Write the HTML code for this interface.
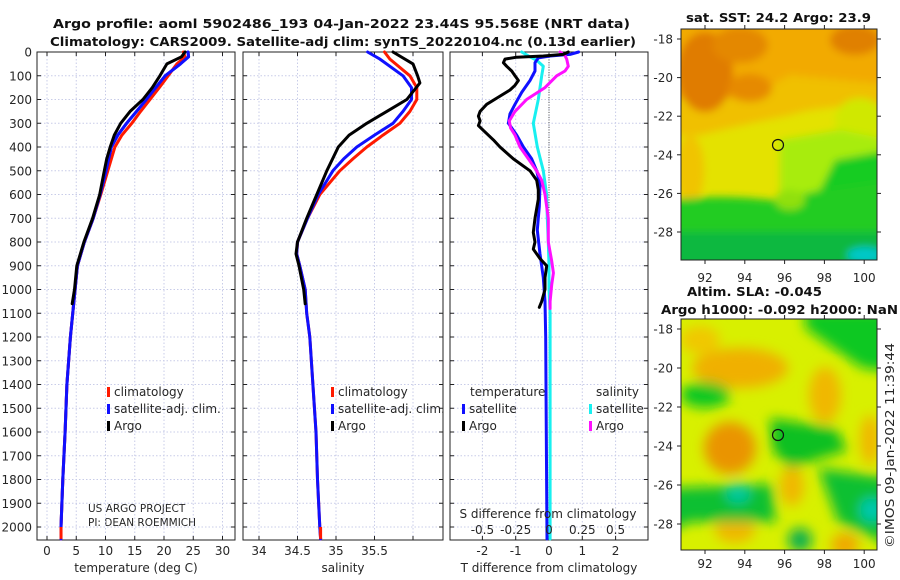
<!DOCTYPE html>
<html><head><meta charset="utf-8">
<style>
html,body{margin:0;padding:0;background:#fff;}
svg{display:block;font-family:"DejaVu Sans","Liberation Sans",sans-serif;}
.t{font-size:12px;fill:#262626;}
.b{font-weight:bold;font-size:12px;fill:#111;}
</style></head>
<body>
<svg id="fig" width="900" height="580" viewBox="0 0 900 580" xmlns="http://www.w3.org/2000/svg">
<defs>
<filter id="blur1" x="-20%" y="-20%" width="140%" height="140%"><feGaussianBlur stdDeviation="4"/></filter>
<filter id="blur2" x="-20%" y="-20%" width="140%" height="140%"><feGaussianBlur stdDeviation="6"/></filter>
<clipPath id="clipTop"><rect x="681" y="29" width="196" height="231"/></clipPath>
<clipPath id="clipBot"><rect x="681" y="319" width="196" height="231"/></clipPath>
</defs>
<text class="b" x="53" y="28" textLength="577" lengthAdjust="spacingAndGlyphs">Argo profile: aoml 5902486_193 04-Jan-2022 23.44S 95.568E (NRT data)</text>
<text class="b" x="50" y="46" textLength="586" lengthAdjust="spacingAndGlyphs">Climatology: CARS2009. Satellite-adj clim: synTS_20220104.nc (0.13d earlier)</text>

<!-- SST map -->
<g>
<text class="b" x="686" y="22" textLength="185" lengthAdjust="spacingAndGlyphs">sat. SST: 24.2 Argo: 23.9</text>
<g clip-path="url(#clipTop)">
<rect x="681" y="29" width="196" height="231" fill="#e4e200"/>
<g filter="url(#blur1)">
<rect x="670" y="20" width="220" height="80" fill="#f2aa00"/>
<path d="M670 100 Q720 110 760 92 L790 75 L890 85 L890 105 Q820 105 790 115 Q740 125 700 135 L670 135Z" fill="#f0c000"/>
<ellipse cx="705" cy="72" rx="28" ry="40" fill="#e07c00"/>
<ellipse cx="740" cy="45" rx="28" ry="18" fill="#e48800"/>
<ellipse cx="750" cy="88" rx="22" ry="14" fill="#e68a00"/>
<ellipse cx="855" cy="40" rx="25" ry="15" fill="#e08000"/>
<ellipse cx="690" cy="170" rx="14" ry="35" fill="#f0c400"/>
<ellipse cx="860" cy="120" rx="25" ry="22" fill="#d0e800"/>
<path d="M780 140 L840 130 L890 140 L890 270 L780 270Z" fill="#a8ec10"/>
<path d="M835 160 L890 150 L890 270 L820 270 L820 190Z" fill="#18cc20"/>
<path d="M670 200 Q720 194 770 200 L800 195 L820 190 L890 180 L890 270 L670 270Z" fill="#20cc20"/>
<rect x="670" y="232" width="220" height="40" fill="#10b840"/>
<ellipse cx="865" cy="255" rx="18" ry="8" fill="#00c8c8"/>
<ellipse cx="790" cy="200" rx="15" ry="10" fill="#90e010"/>
</g>
</g>
<rect x="681" y="29" width="196" height="231" fill="none" stroke="#222" stroke-width="1"/>
<circle cx="778" cy="145" r="5.5" fill="none" stroke="#111" stroke-width="1.2"/>
</g>

<!-- SLA map -->
<g>
<text class="b" x="687" y="296" textLength="135" lengthAdjust="spacingAndGlyphs">Altim. SLA: -0.045</text>
<text class="b" x="661" y="314" textLength="237" lengthAdjust="spacingAndGlyphs">Argo h1000: -0.092 h2000: NaN</text>
<g clip-path="url(#clipBot)">
<rect x="681" y="319" width="196" height="231" fill="#d8f000"/>
<g filter="url(#blur2)">
<ellipse cx="740" cy="368" rx="48" ry="20" fill="#f0b000"/>
<ellipse cx="700" cy="340" rx="20" ry="14" fill="#f0c800"/>
<ellipse cx="825" cy="395" rx="16" ry="28" fill="#f0b800"/>
<ellipse cx="730" cy="448" rx="26" ry="26" fill="#ea9400"/>
<ellipse cx="792" cy="486" rx="12" ry="20" fill="#f0b800"/>
<ellipse cx="735" cy="530" rx="20" ry="13" fill="#f0b800"/>
<ellipse cx="845" cy="545" rx="14" ry="12" fill="#f0a800"/>
<ellipse cx="870" cy="440" rx="10" ry="25" fill="#f0b800"/>
<path d="M805 310 L890 310 L890 372 L862 368 Q838 352 805 328Z" fill="#10c820"/>
<ellipse cx="705" cy="395" rx="25" ry="13" fill="#10c820"/>
<path d="M770 418 L835 428 L848 450 L810 462 L790 468 L772 450Z" fill="#10c020"/>
<path d="M670 488 L772 484 L776 522 L690 522 L670 532Z" fill="#10c030"/>
<path d="M818 468 L890 478 L890 545 L838 522 Z" fill="#10c030"/>
<ellipse cx="738" cy="493" rx="12" ry="10" fill="#00c8a0"/>
<ellipse cx="872" cy="510" rx="12" ry="12" fill="#00c8b0"/>
<ellipse cx="800" cy="540" rx="12" ry="12" fill="#10b050"/>
</g>
</g>
<rect x="681" y="319" width="196" height="231" fill="none" stroke="#222" stroke-width="1"/>
<circle cx="778" cy="435" r="5.5" fill="none" stroke="#111" stroke-width="1.2"/>
</g>
<text class="t" transform="translate(894,548) rotate(-90)" textLength="205" lengthAdjust="spacingAndGlyphs">©IMOS 09-Jan-2022 11:39:44</text>
<text class="t" x="88" y="512" style="font-size:10.5px">US ARGO PROJECT</text>
<text class="t" x="88" y="526" style="font-size:10.5px">PI: DEAN ROEMMICH</text>
</svg>
<script>
// ---- data ----
const tempClimDepth=[0,20,50,100,150,200,250,300,350,400,500,600,700,800,900,1000,1200,1400,1600,1800,2000,2050];
const tempClim=[23.3,23.6,22.2,20.7,19.2,17.6,16.0,14.5,12.8,11.6,10.4,9.2,7.9,6.4,5.2,4.8,4.0,3.4,3.1,2.7,2.4,2.4];
const tempSat=[24.1,24.2,22.8,20.2,18.6,17.0,15.3,13.6,12.1,11.0,10.1,9.1,7.9,6.4,5.2,4.8,4.0,3.4,3.1,2.7,2.4,2.4];
const argoDepth=[0,20,50,100,150,200,250,300,350,400,450,500,600,700,800,900,1000,1060];
const tempArgo=[23.6,23.0,20.5,19.3,18.0,16.4,14.2,12.6,11.5,10.8,10.2,9.8,9.0,7.8,6.3,5.1,4.7,4.3];
const salClimDepth=[0,30,100,150,200,250,300,350,400,450,500,600,700,800,850,900,1000,1100,1200,1400,1600,1800,2000,2050];
const salClim=[35.63,35.70,35.96,36.05,36.05,35.96,35.83,35.61,35.40,35.22,35.05,34.79,34.63,34.50,34.49,34.53,34.60,34.62,34.66,34.70,34.74,34.76,34.79,34.80];
const salSat=[35.41,35.57,35.87,35.98,35.98,35.87,35.74,35.50,35.27,35.10,34.96,34.77,34.63,34.50,34.49,34.53,34.60,34.62,34.66,34.70,34.74,34.76,34.79,34.80];
const salArgoDepth=[0,50,100,130,200,250,300,350,400,500,600,700,800,850,900,1000,1060];
const salArgo=[35.74,36.0,36.06,36.09,35.92,35.66,35.40,35.17,35.03,34.88,34.75,34.62,34.50,34.48,34.52,34.58,34.60];
const dTArgoDepth=[0,10,17,22,30,45,60,80,100,120,140,160,190,220,250,270,290,310,330,370,400,450,500,540,580,620,700,760,800,830,870,900,950,1000,1050,1075];
const dTArgo=[0.58,0.43,-0.17,-0.97,-1.32,-1.37,-1.27,-1.12,-1.02,-0.92,-1.02,-1.17,-1.52,-1.87,-2.07,-2.12,-2.07,-2.12,-1.97,-1.67,-1.47,-1.07,-0.57,-0.37,-0.32,-0.32,-0.42,-0.47,-0.42,-0.47,-0.27,-0.07,-0.12,-0.12,-0.22,-0.29];
const dTSatDepth=[0,10,17,25,45,80,120,170,220,260,300,350,400,450,500,560,650,750,850,950,1050,1200,1600,2050];
const dTSat=[0.89,0.63,0.03,-0.32,-0.42,-0.42,-0.57,-0.82,-1.02,-1.17,-1.22,-0.97,-0.77,-0.52,-0.37,-0.27,-0.29,-0.35,-0.27,-0.17,-0.12,-0.10,-0.08,-0.06];
const dSSatDepth=[0,20,35,60,100,200,300,400,500,600,700,800,900,1000,1100,1500,2050];
const dSSat=[-0.205,-0.143,-0.093,-0.043,-0.055,-0.08,-0.118,-0.088,-0.043,-0.018,-0.013,-0.005,0,0,0.008,0.008,0.008];
const dSArgoDepth=[0,15,30,60,80,100,150,200,250,290,320,350,400,450,500,540,600,700,800,880,930,980,1050,1080];
const dSArgo=[0.083,0.12,0.133,0.145,0.12,0.058,-0.03,-0.168,-0.255,-0.298,-0.288,-0.255,-0.218,-0.155,-0.093,-0.055,-0.03,-0.005,-0.005,0.02,0.033,0.02,0.008,0.008];
const depthTicks=[0,100,200,300,400,500,600,700,800,900,1000,1100,1200,1300,1400,1500,1600,1700,1800,1900,2000];
const tempTicks=[0,5,10,15,20,25,30];
const salTicks=[34,34.5,35,35.5,36];
const salTickLabels=["34","34.5","35","35.5",""];
const dTTicks=[-2,-1,0,1,2];
const dSTicks=[-0.5,-0.25,0,0.25,0.5];
const mapLon=[92,94,96,98,100];
const mapLat=[-18,-20,-22,-24,-26,-28];

// ---- scales ----
const TOP=52,BOT=540;
const yD=d=>TOP+d*0.2375;
const xT=v=>47+v*5.85;
const xS=v=>259+(v-34)*77;
const xdT=v=>549+v*33.3;
const xdS=v=>549+v*133.2;
const lonX=v=>705+(v-92)*19.9;
const latTop=v=>39+(-18-v)*19.3;
const latBot=v=>329+(-18-v)*19.5;

const NS="http://www.w3.org/2000/svg";
const svg=document.getElementById('fig');
function mk(tag,attrs,parent){const e=document.createElementNS(NS,tag);for(const k in attrs)e.setAttribute(k,attrs[k]);(parent||svg).appendChild(e);return e;}
function txt(s,x,y,anchor,parent,cls){const e=mk('text',{x:x,y:y,'text-anchor':anchor||'middle',class:cls||'t'},parent);e.textContent=s;return e;}

const panels=[
 {name:'temperature',x0:37,x1:235,xs:xT,ticks:tempTicks,labels:tempTicks.map(String),title:'temperature (deg C)'},
 {name:'salinity',x0:243,x1:443,xs:xS,ticks:salTicks,labels:salTickLabels,title:'salinity'},
 {name:'difference',x0:450,x1:648,xs:xdT,ticks:dTTicks,labels:dTTicks.map(String),title:'T difference from climatology'}
];
panels.forEach((p,i)=>{
 const g=mk('g',{});
 
 
 depthTicks.forEach(d=>{
  const l=mk('line',{x1:p.x0,x2:p.x1,y1:yD(d),y2:yD(d),stroke:'#c8cce8','stroke-dasharray':'1.5,2','stroke-width':1},g);
  
  
  mk('line',{x1:p.x0,x2:p.x0+4,y1:yD(d),y2:yD(d),stroke:'#222'},g);
  mk('line',{x1:p.x1,x2:p.x1-4,y1:yD(d),y2:yD(d),stroke:'#222'},g);
 });
 p.ticks.forEach((t,k)=>{
  const x=p.xs(t);
  const l=mk('line',{x1:x,x2:x,y1:TOP,y2:BOT,stroke:'#c8cce8','stroke-dasharray':'1.5,2','stroke-width':1},g);
  
  
  mk('line',{x1:x,x2:x,y1:BOT,y2:BOT-4,stroke:'#222'},g);
  mk('line',{x1:x,x2:x,y1:TOP,y2:TOP+4,stroke:'#222'},g);
  const tl=txt(p.labels[k],x,555,'middle',g);
  
  
 });
 const fr=mk('rect',{x:p.x0,y:TOP,width:p.x1-p.x0,height:BOT-TOP,fill:'none',stroke:'#222','stroke-width':1},g);
 
 
 const at=txt(p.title,(p.x0+p.x1)/2,572,'middle',g);
 
 
});
depthTicks.forEach(d=>{
 const e=txt(String(d),32,yD(d)+4.5,'end');
 
 
});
const z=mk('line',{x1:xdT(0),x2:xdT(0),y1:TOP,y2:BOT,stroke:'#555','stroke-dasharray':'1,1.5'});



function line(depths,vals,xs,color,name,w){
 const pts=depths.map((d,i)=>xs(vals[i]).toFixed(1)+','+yD(d).toFixed(1)).join(' ');
 const e=mk('polyline',{points:pts,fill:'none',stroke:color,'stroke-width':w||3,'stroke-linejoin':'round','stroke-linecap':'round'});
 
 
}
line(tempClimDepth,tempSat,xT,'#1010ff','temp-satellite-line');
line(tempClimDepth,tempClim,xT,'#ff1a00','temp-climatology-line');
line(tempClimDepth,tempSat,xT,'#1010ff','temp-satellite-line-overlay',3);
line(argoDepth,tempArgo,xT,'#000','temp-argo-line');
line(salClimDepth,salClim,xS,'#ff1a00','sal-climatology-line');
line(salClimDepth,salSat,xS,'#1010ff','sal-satellite-line');
line(salArgoDepth,salArgo,xS,'#000','sal-argo-line');
line(dSSatDepth,dSSat,xdS,'#18f0f0','sal-diff-satellite-line');
line(dTSatDepth,dTSat,xdT,'#1010ff','temp-diff-satellite-line');
line(dSArgoDepth,dSArgo,xdS,'#ff10ff','sal-diff-argo-line');
line(dTArgoDepth,dTArgo,xdT,'#000','temp-diff-argo-line');
// red clim stub at bottom as in reference
const stub=mk('line',{x1:xT(2.4),x2:xT(2.4),y1:yD(2000),y2:yD(2050),stroke:'#ff1a00','stroke-width':3});


const stub2=mk('line',{x1:xS(34.8),x2:xS(34.8),y1:yD(2000),y2:yD(2050),stroke:'#ff1a00','stroke-width':3});



const sl=txt('S difference from climatology',548,518);


dSTicks.forEach(t=>{
 const e=txt(String(t),xdS(t),534);
 
 
});

function legend(x,y,color,label,name){
 mk('rect',{x:x,y:y-9,width:3,height:10,fill:color});
 const e=txt(label,x+7,y,'start');
 
 
}
[[107],[331]].forEach((a,i)=>{
 const pre=i?'sal':'temp';
 legend(a[0],396,'#ff1a00','climatology',pre+'-legend-climatology');
 legend(a[0],413,'#1010ff','satellite-adj. clim.',pre+'-legend-satellite');
 legend(a[0],430,'#000','Argo',pre+'-legend-argo');
});
const lt=txt('temperature',470,396,'start');


legend(462,413,'#1010ff','satellite','diff-legend-temp-satellite');
legend(462,430,'#000','Argo','diff-legend-temp-argo');
const ls=txt('salinity',596,396,'start');


legend(589,413,'#18f0f0','satellite','diff-legend-sal-satellite');
legend(589,430,'#ff10ff','Argo','diff-legend-sal-argo');

[[29,260,latTop,282],[319,550,latBot,568]].forEach((m,i)=>{
 mapLon.forEach(v=>{
  const x=lonX(v);
  mk('line',{x1:x,x2:x,y1:m[1],y2:m[1]+4,stroke:'#222'});
  mk('line',{x1:x,x2:x,y1:m[0],y2:m[0]-4,stroke:'#222'});
  const e=txt(String(v),x,m[3]);
  
  
 });
 mapLat.forEach(v=>{
  const y=m[2](v);
  mk('line',{x1:681,x2:677,y1:y,y2:y,stroke:'#222'});
  mk('line',{x1:877,x2:881,y1:y,y2:y,stroke:'#222'});
  const e=txt(String(v),673,y+4.5,'end');
  
  
 });
});
</script>
</body></html>
